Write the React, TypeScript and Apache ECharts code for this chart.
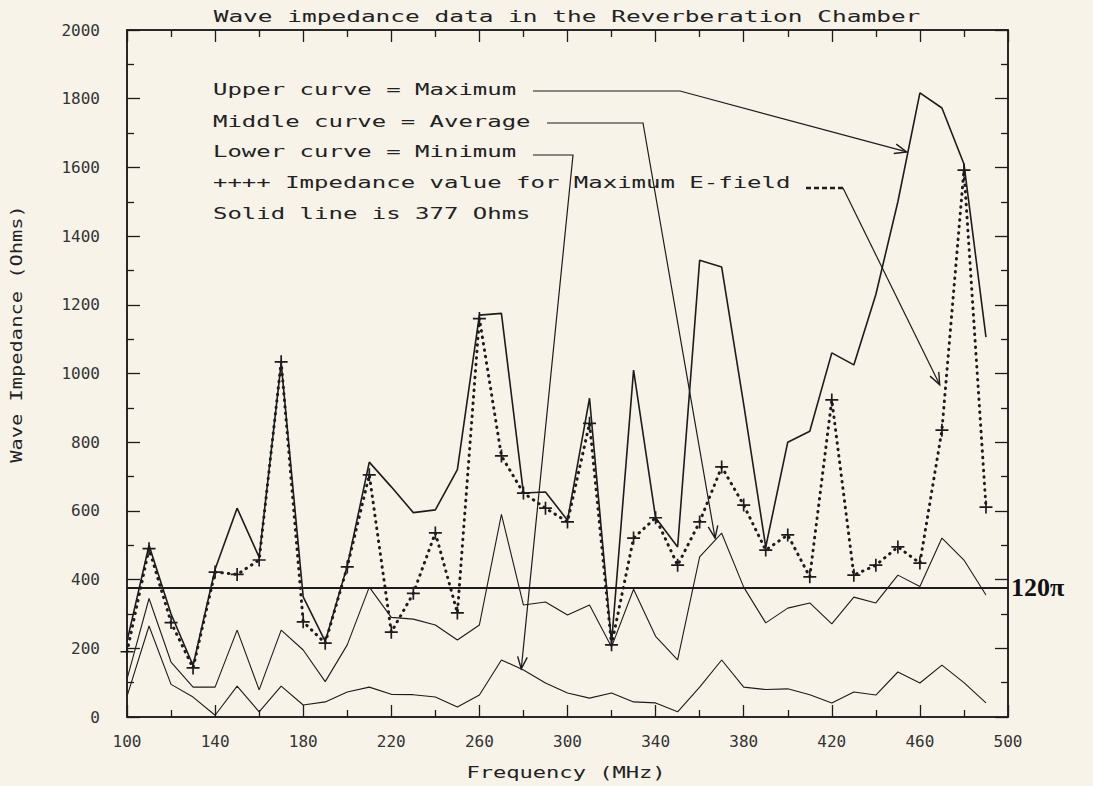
import React, { useEffect, useRef } from "react";
import * as echarts from "echarts";

// Frequency points (MHz)
const freqs = [
  100, 110, 120, 130, 140, 150, 160, 170, 180, 190,
  200, 210, 220, 230, 240, 250, 260, 270, 280, 290,
  300, 310, 320, 330, 340, 350, 360, 370, 380, 390,
  400, 410, 420, 430, 440, 450, 460, 470, 480, 490,
];

// Upper curve = Maximum (Ohms)
const maxVals = [
  220, 500, 300, 150, 430, 608, 465, 1030, 350, 220,
  440, 742, 670, 595, 603, 720, 1170, 1175, 652, 655,
  573, 928, 215, 1010, 580, 495, 1330, 1310, 910, 495,
  800, 832, 1060, 1025, 1230, 1500, 1817, 1773, 1610, 1106,
];

// Middle curve = Average (Ohms)
const avgVals = [
  110, 345, 160, 87, 87, 253, 79, 253, 195, 103,
  210, 378, 290, 285, 268, 224, 268, 590, 326, 335,
  297, 326, 204, 372, 235, 166, 466, 535, 378, 274,
  317, 332, 271, 349, 332, 413, 380, 521, 457, 355,
];

// Lower curve = Minimum (Ohms)
const minVals = [
  60, 265, 95, 58, 5, 90, 15, 90, 35, 44,
  73, 87, 66, 65, 58, 29, 64, 166, 137, 99,
  70, 55, 70, 44, 41, 15, 87, 166, 87, 80,
  82, 65, 41, 73, 64, 131, 99, 151, 100, 41,
];

// ++++ Impedance value for Maximum E-field (Ohms)
const eFieldVals = [
  190, 490, 275, 143, 422, 415, 457, 1034, 277, 215,
  437, 705, 247, 360, 536, 303, 1160, 760, 652, 608,
  568, 855, 210, 521, 580, 442, 568, 728, 617, 486,
  530, 408, 923, 413, 442, 495, 448, 835, 1592, 611,
];

const xMin = 100;
const xMax = 500;
const xStep = 40;
const yMin = 0;
const yMax = 2000;
const yStep = 200;
const freeSpaceOhms = 377;

const titleText = "Wave impedance data in the Reverberation Chamber";
const xName = "Frequency (MHz)";
const yName = "Wave Impedance (Ohms)";
const noteLines = [
  "Upper curve = Maximum",
  "Middle curve = Average",
  "Lower curve = Minimum",
  "++++ Impedance value for Maximum E-field",
  "Solid line is 377 Ohms",
];
// arrow tips, in data coordinates [MHz, Ohms]
const arrowTips = [
  [454, 1645],
  [367, 521],
  [279, 140],
  [469, 967],
];

const INK = "#1c1c1c";
const BG = "#f7f3e9";
const MONO = "'DejaVu Sans Mono', monospace";
const PLUS =
  "path://M-1,-0.13L-0.13,-0.13L-0.13,-1L0.13,-1L0.13,-0.13L1,-0.13L1,0.13L0.13,0.13L0.13,1L-0.13,1L-0.13,0.13L-1,0.13Z";

function pairs(vals: number[]) {
  return freqs.map((f, i) => [f, vals[i]]);
}

function arrowHead(from: number[], tip: number[], len = 13, spread = 0.38) {
  const ang = Math.atan2(tip[1] - from[1], tip[0] - from[0]);
  const a1 = ang + Math.PI - spread;
  const a2 = ang + Math.PI + spread;
  return {
    type: "polyline",
    shape: {
      points: [
        [tip[0] + len * Math.cos(a1), tip[1] + len * Math.sin(a1)],
        [tip[0], tip[1]],
        [tip[0] + len * Math.cos(a2), tip[1] + len * Math.sin(a2)],
      ],
    },
    style: { stroke: INK, lineWidth: 1.4, fill: null },
    z: 100,
  };
}

export default function App() {
  const ref = useRef<HTMLDivElement>(null);

  useEffect(() => {
    if (!ref.current) return;
    const chart = echarts.init(ref.current, null, { renderer: "svg" });

    const axisLabel = {
      fontFamily: MONO,
      fontSize: 16,
      color: "#333",
      formatter: (v: number) => String(v),
    };
    const axisLine = { show: true, onZero: false, lineStyle: { color: INK, width: 1.5 } };
    const tick = (len: number) => ({
      show: true,
      inside: true,
      length: len,
      lineStyle: { color: INK, width: 1.3 },
    });
    const minor = { show: true, splitNumber: 2, length: 7, lineStyle: { color: INK, width: 1.3 } };

    const option: any = {
      animation: false,
      backgroundColor: BG,
      grid: {
        left: 127,
        right: 85,
        top: 30,
        bottom: 69,
        containLabel: false,
        show: true,
        borderColor: INK,
        borderWidth: 1.5,
        backgroundColor: "transparent",
      },
      xAxis: [
        {
          type: "value",
          min: xMin,
          max: xMax,
          interval: xStep,
          position: "bottom",
          axisLine,
          axisTick: tick(12),
          minorTick: minor,
          splitLine: { show: false },
          axisLabel: { ...axisLabel, margin: 16 },
        },
        {
          type: "value",
          min: xMin,
          max: xMax,
          interval: xStep,
          position: "top",
          axisLine,
          axisTick: tick(12),
          minorTick: minor,
          splitLine: { show: false },
          axisLabel: { show: false },
        },
      ],
      yAxis: [
        {
          type: "value",
          min: yMin,
          max: yMax,
          interval: yStep,
          position: "left",
          axisLine,
          axisTick: tick(13),
          minorTick: minor,
          splitLine: { show: false },
          axisLabel: { ...axisLabel, margin: 27 },
        },
        {
          type: "value",
          min: yMin,
          max: yMax,
          interval: yStep,
          position: "right",
          axisLine,
          axisTick: tick(13),
          minorTick: minor,
          splitLine: { show: false },
          axisLabel: { show: false },
        },
      ],
      series: [
        {
          name: "Maximum",
          type: "line",
          data: pairs(maxVals),
          showSymbol: false,
          lineStyle: { color: INK, width: 1.6 },
          z: 3,
        },
        {
          name: "Average",
          type: "line",
          data: pairs(avgVals),
          showSymbol: false,
          lineStyle: { color: INK, width: 1.1 },
          z: 3,
          markLine: {
            silent: true,
            symbol: ["none", "none"],
            data: [{ yAxis: freeSpaceOhms }],
            lineStyle: { color: INK, width: 2, type: "solid" },
            label: {
              show: true,
              position: "end",
              distance: 3,
              formatter: "120π",
              fontFamily: "'Liberation Serif', 'DejaVu Serif', serif",
              fontSize: 26,
              fontWeight: "bold",
              color: "#111",
            },
          },
        },
        {
          name: "Minimum",
          type: "line",
          xAxisIndex: 1,
          yAxisIndex: 1,
          data: pairs(minVals),
          showSymbol: false,
          lineStyle: { color: INK, width: 1.1 },
          z: 3,
        },
        {
          name: "Max E-field",
          type: "line",
          data: pairs(eFieldVals),
          symbol: PLUS,
          symbolSize: 13,
          itemStyle: { color: INK },
          lineStyle: { color: INK, width: 3, type: [0.5, 6], cap: "round" },
          z: 5,
        },
      ],
    };

    chart.setOption(option);

    const px = (p: number[]) =>
      chart.convertToPixel({ xAxisIndex: 0, yAxisIndex: 0 }, p) as number[];
    const tips = arrowTips.map(px);

    const textX = 213;
    const lineYs = [90, 122, 152, 183, 214];
    const noteFont = `16px ${MONO}`;

    const leader1 = [[533, 91], [680, 91], tips[0]];
    const leader2 = [[547, 123], [643, 123], tips[1]];
    const leader3 = [[533, 155], [573, 155], tips[2]];
    const leader4 = [[843, 188], tips[3]];

    const graphic: any[] = [
      {
        type: "text",
        x: 567,
        y: 17,
        scaleX: 1.53,
        style: {
          text: titleText,
          font: noteFont,
          fill: "#222",
          textAlign: "center",
          verticalAlign: "middle",
        },
      },
      {
        type: "text",
        x: 566,
        y: 773,
        scaleX: 1.38,
        style: {
          text: xName,
          font: noteFont,
          fill: "#222",
          textAlign: "center",
          verticalAlign: "middle",
        },
      },
      {
        type: "text",
        x: 17,
        y: 334,
        rotation: Math.PI / 2,
        scaleX: 1.36,
        style: {
          text: yName,
          font: `15px ${MONO}`,
          fill: "#222",
          textAlign: "center",
          verticalAlign: "middle",
        },
      },
      ...noteLines.map((t, i) => ({
        type: "text",
        x: textX,
        y: lineYs[i],
        scaleX: 1.5,
        style: { text: t, font: noteFont, fill: "#222", textAlign: "left", verticalAlign: "middle" },
        z: 100,
      })),
      ...[leader1, leader2, leader3].map((pts) => ({
        type: "polyline",
        shape: { points: pts },
        style: { stroke: INK, lineWidth: 1.2, fill: null },
        z: 100,
      })),
      {
        type: "line",
        shape: { x1: 806, y1: 188, x2: 843, y2: 188 },
        style: { stroke: INK, lineWidth: 2.4, lineDash: [5, 3] },
        z: 100,
      },
      {
        type: "polyline",
        shape: { points: leader4 },
        style: { stroke: INK, lineWidth: 1.2, fill: null },
        z: 100,
      },
      arrowHead(leader1[1], tips[0]),
      arrowHead(leader2[1], tips[1]),
      arrowHead(leader3[1], tips[2]),
      arrowHead(leader4[0], tips[3]),
    ];

    chart.setOption({ graphic });

    return () => chart.dispose();
  }, []);

  return (
    <div
      ref={ref}
      style={{
        position: "fixed",
        left: 0,
        top: 0,
        width: "1093px",
        height: "786px",
        background: BG,
      }}
    />
  );
}
